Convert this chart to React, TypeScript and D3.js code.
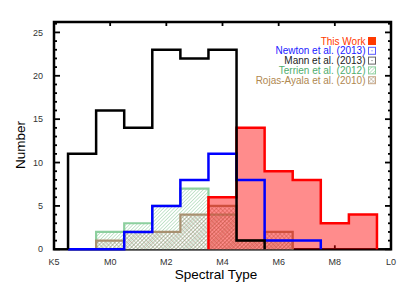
import React from "react";
import * as d3 from "d3";

// Spectral type numeric: -2 = K5, 0 = M0, ... 10 = L0. Bins are 1 subtype wide, centred on integers.
const xTickValues = [-2, 0, 2, 4, 6, 8, 10];
const xTickLabels = ["K5", "M0", "M2", "M4", "M6", "M8", "L0"];
const yTickValues = [0, 5, 10, 15, 20, 25];

// first bin centre and counts per bin
const thisWorkStart = 4;
const thisWork = [6, 14, 9, 8, 3, 4];
const newtonStart = -1;
const newton = [0, 0, 2, 5, 8, 11, 8, 1, 1];
const mannStart = -1;
const mann = [11, 16, 14, 23, 22, 23, 1];
const terrienStart = 0;
const terrien = [2, 3, 5, 7, 4, 1, 1];
const rojasStart = 0;
const rojas = [1, 2, 2, 4, 5, 1, 2];

const legendLabels = [
  "This Work",
  "Newton et al. (2013)",
  "Mann et al. (2013)",
  "Terrien et al. (2012)",
  "Rojas-Ayala et al. (2010)",
];

const W = 415;
const H = 297;
const left = 54, right = 391, top = 22, bottom = 249.3;

const x = d3.scaleLinear().domain([-2, 10]).range([left, right]);
const y = d3.scaleLinear().domain([0, 26.2]).range([bottom, top]);

function stepPoints(start: number, vals: number[]): [number, number][] {
  const pts: [number, number][] = [];
  const e0 = start - 0.5;
  pts.push([x(e0), y(0)]);
  vals.forEach((v, i) => {
    pts.push([x(e0 + i), y(v)]);
    pts.push([x(e0 + i + 1), y(v)]);
  });
  pts.push([x(e0 + vals.length), y(0)]);
  return pts;
}
const line = d3.line<[number, number]>();

const FONT = "'Liberation Sans', Arial, Helvetica, sans-serif";

export default function App() {
  const minorY = d3.range(0, 27, 1);
  const twP = stepPoints(thisWorkStart, thisWork);
  const legendColors = ["#ff3a00", "#1a1aff", "#222222", "#4fae6e", "#b08850"];
  return (
    <svg
      width={W}
      height={H}
      style={{ position: "absolute", left: 0, top: 0, background: "#fff" }}
      fontFamily={FONT}
    >
      <defs>
        <pattern id="hatchG" width="2.5" height="2.5" patternUnits="userSpaceOnUse" patternTransform="rotate(45)">
          <rect width="2.5" height="2.5" fill="#ffffff" />
          <line x1="0" y1="0" x2="0" y2="2.5" stroke="#8fcc9e" strokeWidth="1" />
        </pattern>
        <pattern id="hatchB" width="3" height="3" patternUnits="userSpaceOnUse" patternTransform="rotate(45)">
          <line x1="0" y1="0" x2="0" y2="3" stroke="#9a8a70" strokeWidth="0.8" />
          <line x1="0" y1="0" x2="3" y2="0" stroke="#9a8a70" strokeWidth="0.8" />
        </pattern>
      </defs>

      {/* frame */}
      <rect x={left} y={top} width={right - left} height={bottom - top} fill="none" stroke="#000" strokeWidth={2.5} />
      {minorY.map((v) => {
        const major = v % 5 === 0;
        const len = major ? 6 : 3;
        return (
          <g key={"yt" + v}>
            <line x1={left} x2={left + len} y1={y(v)} y2={y(v)} stroke="#000" strokeWidth={1.8} />
            <line x1={right} x2={right - len} y1={y(v)} y2={y(v)} stroke="#000" strokeWidth={1.8} />
          </g>
        );
      })}
      {xTickValues.slice(1, -1).map((v) => (
        <g key={"xt" + v}>
          <line x1={x(v)} x2={x(v)} y1={bottom} y2={bottom - 4} stroke="#000" strokeWidth={1.8} />
          <line x1={x(v)} x2={x(v)} y1={top} y2={top + 4} stroke="#000" strokeWidth={1.8} />
        </g>
      ))}
      {yTickValues.map((v) => (
        <text key={"yl" + v} x={43} y={y(v)} dy="0.35em" textAnchor="end" fontSize={9} fill="#333">
          {v}
        </text>
      ))}
      {xTickValues.map((v, i) => (
        <text key={"xl" + v} x={x(v)} y={265} textAnchor="middle" fontSize={9} fill="#333">
          {xTickLabels[i]}
        </text>
      ))}
      <text x={216} y={279} textAnchor="middle" fontSize={13.5} fill="#000">
        Spectral Type
      </text>
      <text transform="translate(25,145) rotate(-90)" textAnchor="middle" fontSize={13.5} fill="#000">
        Number
      </text>

      {/* histograms */}
      <path d={line(stepPoints(terrienStart, terrien)) || ""} fill="url(#hatchG)" stroke="#8ccf9e" strokeWidth={2.2} />
      <path d={line(stepPoints(rojasStart, rojas)) || ""} fill="url(#hatchB)" stroke="#a89070" strokeWidth={2.2} />
      <path d={line(twP) || ""} fill="rgba(255,0,0,0.45)" stroke="none" />
      <path d={line(twP) || ""} fill="none" stroke="#ff0000" strokeWidth={2.5} />
      <path d={line(stepPoints(newtonStart, newton)) || ""} fill="none" stroke="#0000ff" strokeWidth={2.5} />
      <path d={line(stepPoints(mannStart, mann)) || ""} fill="none" stroke="#000" strokeWidth={2.5} />

      {/* legend */}
      {legendLabels.map((lab, i) => {
        const cy = 41 + i * 9.8;
        const sx = 368;
        const sw = 8;
        let swatch: React.ReactNode = null;
        if (i === 0) swatch = <rect x={sx} y={cy - 4} width={sw} height={sw} fill="#ff3a00" />;
        else if (i === 1 || i === 2)
          swatch = (
            <g>
              <rect x={sx + 0.5} y={cy - 3.5} width={sw - 1} height={sw - 1} fill="#fff" stroke={i === 1 ? "#5a5aff" : "#666"} strokeWidth={1} />
              <rect x={sx + 3.5} y={cy - 0.5} width={1} height={1} fill={i === 1 ? "#5a5aff" : "#666"} />
            </g>
          );
        else
          swatch = (
            <rect
              x={sx + 0.5}
              y={cy - 3.5}
              width={sw - 1}
              height={sw - 1}
              fill={i === 3 ? "url(#hatchG)" : "url(#hatchB)"}
              stroke={i === 3 ? "#8ccf9e" : "#c8a888"}
              strokeWidth={1}
            />
          );
        return (
          <g key={lab}>
            <text x={365.5} y={cy} dy="0.35em" textAnchor="end" fontSize={10} fill={legendColors[i]}>
              {lab}
            </text>
            {swatch}
          </g>
        );
      })}
    </svg>
  );
}
